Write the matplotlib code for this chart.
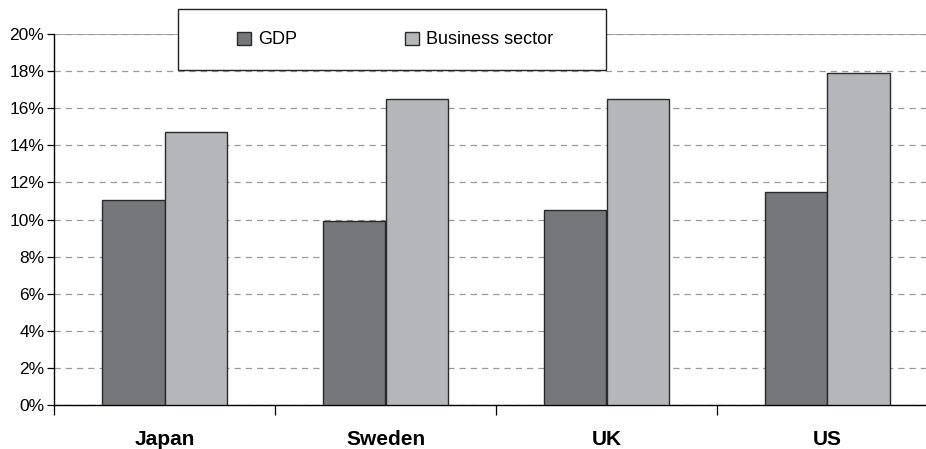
import numpy as np
import matplotlib
matplotlib.use('Agg')
import matplotlib.pyplot as plt
from matplotlib.patches import Rectangle
from matplotlib.ticker import FuncFormatter, FixedLocator

plt.rcParams['font.family'] = ['Liberation Sans', 'DejaVu Sans']

# data
countries = ['Japan', 'Sweden', 'UK', 'US']
gdp = [11.05, 9.92, 10.5, 11.48]
business = [14.72, 16.48, 16.52, 17.9]
series_names = ['GDP', 'Business sector']

fig = plt.figure(figsize=(9.26, 4.49), dpi=100)
ax = fig.add_axes([54 / 926, 1 - 405 / 449, 884 / 926, 371 / 449])

x = np.arange(len(countries))
w = 0.285
ax.bar(x - w / 2, gdp, w, color='#76777b', edgecolor='#2a2a2a', linewidth=1, zorder=3, label=series_names[0])
ax.bar(x + w / 2, business, w, color='#b5b6ba', edgecolor='#2a2a2a', linewidth=1, zorder=3, label=series_names[1])

ax.set_xlim(-0.5, 3.5)
ax.set_ylim(0, 20)
ax.set_yticks(np.arange(0, 21, 2))
ax.yaxis.set_major_formatter(FuncFormatter(lambda v, p: f'{v:.0f}%'))
ax.yaxis.grid(True, color='#999999', linestyle=(0, (5, 4)), linewidth=0.9, zorder=0)
ax.axhline(20, color='#999999', linewidth=1.2, zorder=1)

ax.xaxis.set_major_locator(FixedLocator(np.arange(-0.5, 4, 1)))
ax.xaxis.set_major_formatter(FuncFormatter(lambda v, p: ''))
ax.xaxis.set_minor_locator(FixedLocator(x))
ax.set_xticklabels(countries, minor=True, fontsize=15, fontweight='bold')
ax.tick_params(axis='x', which='minor', length=0, pad=18)
ax.tick_params(axis='x', which='major', length=7, width=0.9, direction='out')
ax.tick_params(axis='y', length=5, width=0.9, labelsize=12.5, pad=2)

for s in ['top', 'right']:
    ax.spines[s].set_visible(False)
ax.spines['left'].set_linewidth(1)
ax.spines['bottom'].set_linewidth(1)

# legend box
box = Rectangle((178 / 926, 1 - 70 / 449), 428 / 926, 61 / 449, transform=fig.transFigure,
                facecolor='white', edgecolor='#222222', linewidth=1, zorder=4)
fig.add_artist(box)
leg = fig.legend(loc='center left', ncol=2, bbox_to_anchor=(237 / 926, 1 - 40 / 449),
                 fontsize=13, frameon=False, columnspacing=6.0,
                 handlelength=0.75, handleheight=0.75, handletextpad=0.4,
                 borderpad=0, borderaxespad=0)
leg.set_zorder(5)

fig.savefig('out.png', dpi=100)
